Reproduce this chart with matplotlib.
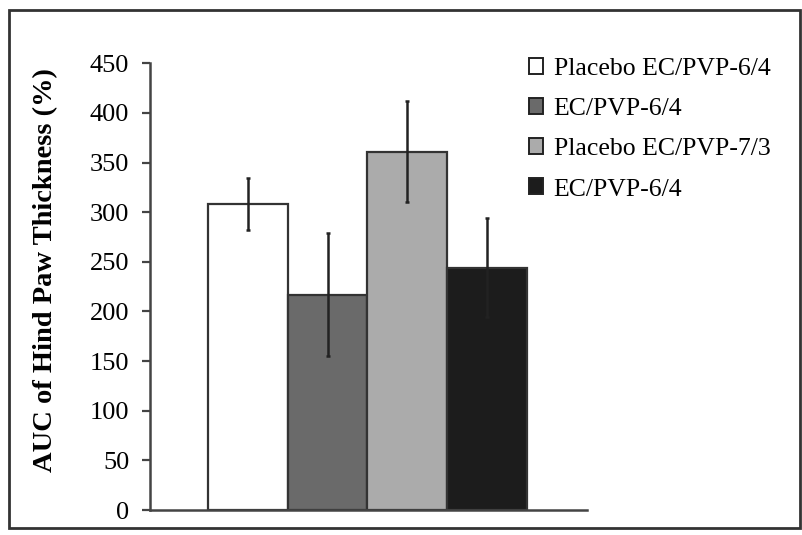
import matplotlib
matplotlib.use('Agg')
import matplotlib.pyplot as plt
from matplotlib.patches import Rectangle

# Data
labels = ['Placebo EC/PVP-6/4', 'EC/PVP-6/4', 'Placebo EC/PVP-7/3', 'EC/PVP-6/4']
auc_means = [308, 217, 361, 244]
auc_errs = [26, 62, 51, 50]
bar_colors = ['#ffffff', '#6a6a6a', '#ababab', '#1c1c1c']
y_ticks = [0, 50, 100, 150, 200, 250, 300, 350, 400, 450]

plt.rcParams['font.family'] = ['Liberation Serif', 'DejaVu Serif']

fig = plt.figure(figsize=(8.02, 5.35), dpi=100)
ax = fig.add_axes([0.187, 0.0467, 0.545, 0.835])

x = list(range(len(auc_means)))
bars = ax.bar(x, auc_means, width=1.0, color=bar_colors, edgecolor='#333333',
              linewidth=1.6, label=labels, zorder=2)
ax.errorbar(x, auc_means, yerr=auc_errs, fmt='none', ecolor='#222222',
            elinewidth=1.8, capsize=1.5, capthick=1.8, zorder=3)

ax.set_xlim(-1.23, 4.26)
ax.set_ylim(0, 450)
ax.set_yticks(y_ticks)
ax.set_xticks([])
ax.tick_params(axis='y', direction='out', length=6, width=1.6, color='#444444',
               labelsize=19, pad=9)
for s in ['top', 'right']:
    ax.spines[s].set_visible(False)
for s in ['left', 'bottom']:
    ax.spines[s].set_linewidth(1.8)
    ax.spines[s].set_color('#444444')

ax.set_ylabel('AUC of Hind Paw Thickness (%)', fontsize=20.5, fontweight='bold')
ax.yaxis.set_label_coords(-0.21, 0.537)

leg = fig.legend(handles=list(bars), labels=labels, loc='upper left',
                 bbox_to_anchor=(0.659, 0.891), frameon=False, fontsize=18.5,
                 borderpad=0, borderaxespad=0,
                 handlelength=0.58, handleheight=0.58, handletextpad=0.4,
                 labelspacing=0.7)
for h in leg.legend_handles:
    h.set_edgecolor('#222222')
    h.set_linewidth(1.4)

# outer border around the whole chart
fig.patches.append(Rectangle((0.011, 0.013), 0.986, 0.968, transform=fig.transFigure,
                             fill=False, edgecolor='#333333', linewidth=2))

fig.savefig('out.png', dpi=100)
